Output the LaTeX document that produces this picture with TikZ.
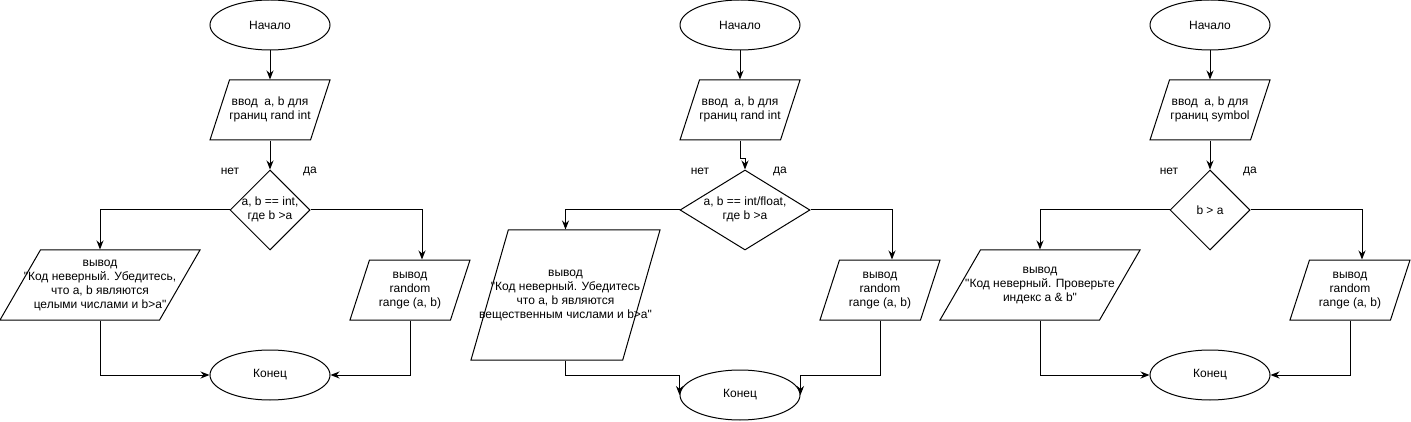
\documentclass[tikz,border=0pt]{standalone}
\usepackage{fontspec}
\setmainfont{Liberation Sans}
\usetikzlibrary{arrows.meta,shapes.geometric}
\newcommand{\boxtext}[1]{\makebox[0pt]{\begin{tabular}{@{}c@{}}#1\end{tabular}}}

\begin{document}
\begin{tikzpicture}[x=1pt, y=-1pt, line width=1pt, -{Stealth[length=9pt, width=7pt]},
        font=\fontsize{12}{14}\selectfont]
      \tikzstyle{term} = [ellipse, draw, minimum width=120, minimum height=50, inner sep=0pt]
      \tikzstyle{io} = [trapezium, draw, trapezium stretches body, trapezium left angle=72,
        trapezium right angle=108, minimum width=120, text height=33pt, text depth=27pt,
        inner sep=0pt]
      \tikzstyle{cond} = [diamond, draw, minimum width=80, minimum height=80, inner sep=0pt]
      \tikzstyle{bigio} = [io, trapezium left angle=60, trapezium right angle=120,
        minimum width=200, text height=38pt, text depth=32pt]
      \useasboundingbox (0,0) rectangle (1411,422);

      \node (begin1) [term] at (270,25) {Начало};
      \node (input1) [io] at (270,110) {\boxtext{ввод~ a, b для\\границ rand int}};
      \node (check1) [cond] at (270,210) {\boxtext{a, b == int,\\где b >a}};
      \node (no1) at (230,171) {нет};
      \node (yes1) at (310,171) {да};
      \node (errout1) [bigio] at (100,285)
        {\boxtext{вывод\\\textquotedbl Код неверный. Убедитесь,\\что a, b являются\\ целыми числами и b>a\textquotedbl}};
      \node (result1) [io] at (410,290) {\boxtext{вывод\\random\\range (a, b)}};
      \node (end1) [term] at (270,375) {Конец};
      \draw (begin1) -- (input1);
      \draw (input1) -- (check1);
      \draw (check1.west) -| (errout1.north);
      \draw (check1.east) -| ([xshift=12pt]result1.north);
      \draw (errout1.south) |- (end1.west);
      \draw (result1.south) |- (end1.east);

      \node (begin2) [term] at (740,25) {Начало};
      \node (input2) [io] at (740,110) {\boxtext{ввод~ a, b для\\границ rand int}};
      \node (check2) [cond, minimum width=130] at (745,210) {\boxtext{a, b == int/float,\\где b >a}};
      \node (no2) at (700,171) {нет};
      \node (yes2) at (780,171) {да};
      \node (errout2) [io, trapezium left angle=74, trapezium right angle=106,
        minimum width=189, text height=68pt, text depth=62pt] at (565.5,295)
        {\boxtext{вывод\\\textquotedbl Код неверный. Убедитесь\\что a, b являются\\вещественным числами и b>a\textquotedbl}};
      \node (result2) [io] at (880,290) {\boxtext{вывод\\random\\range (a, b)}};
      \node (end2) [term] at (740,395) {Конец};
      \draw (begin2) -- (input2);
      \draw (input2.south) -- ++(0,18) -| (check2.north);
      \draw (check2.west) -| (errout2.north);
      \draw (check2.east) -| ([xshift=12pt]result2.north);
      \draw (errout2.south) -- ++(0,15) -| (end2.west);
      \draw (result2.south) -- ++(0,55) -| (end2.east);

      \node (begin3) [term] at (1210,25) {Начало};
      \node (input3) [io] at (1210,110) {\boxtext{ввод~ a, b для\\границ symbol}};
      \node (check3) [cond] at (1210,210) {b > a};
      \node (no3) at (1169,171) {нет};
      \node (yes3) at (1250,171) {да};
      \node (errout3) [bigio] at (1040,285)
        {\boxtext{вывод\\\textquotedbl Код неверный. Проверьте\\индекс a \& b\textquotedbl}};
      \node (result3) [io] at (1350,290) {\boxtext{вывод\\random\\range (a, b)}};
      \node (end3) [term] at (1210,375) {Конец};
      \draw (begin3) -- (input3);
      \draw (input3) -- (check3);
      \draw (check3.west) -| (errout3.north);
      \draw (check3.east) -| ([xshift=12pt]result3.north);
      \draw (errout3.south) |- (end3.west);
      \draw (result3.south) |- (end3.east);
    \end{tikzpicture}
\end{document}
